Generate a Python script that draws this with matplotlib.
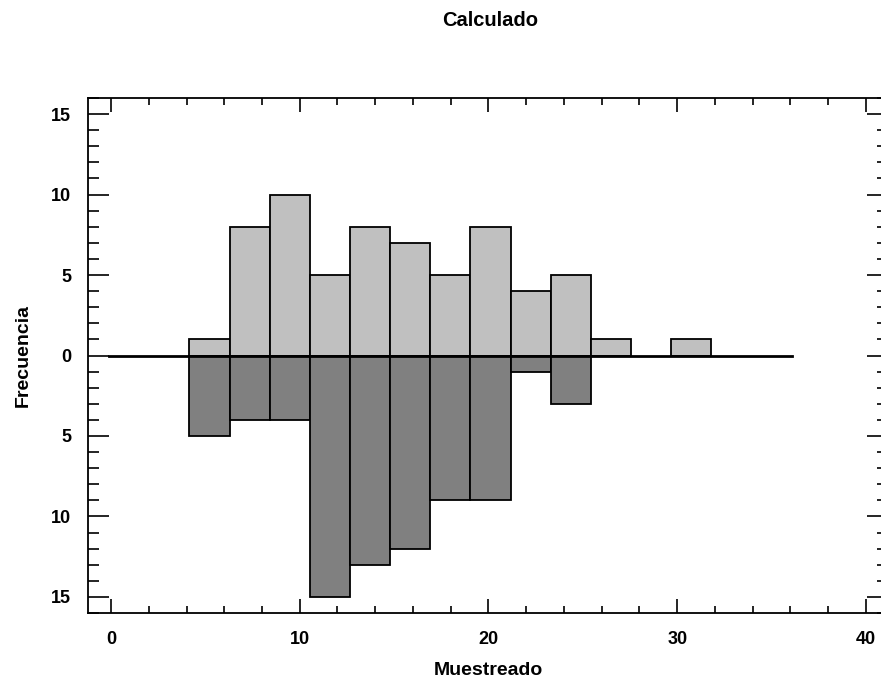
import numpy as np
import matplotlib
matplotlib.use("Agg")
import matplotlib.pyplot as plt
from matplotlib.ticker import MultipleLocator, FuncFormatter

plt.rcParams['font.family'] = ['Liberation Sans', 'DejaVu Sans']
plt.rcParams['font.weight'] = 'bold'

# bin edges of the histogram (17 bins)
bin_start = -0.1
bin_width = 2.127
n_bins = 17
edges = bin_start + bin_width * np.arange(n_bins + 1)

# Calculado (upper, light) and Muestreado (lower, dark) counts per bin
calculado = [0, 0, 1, 8, 10, 5, 8, 7, 5, 8, 4, 5, 1, 0, 1, 0, 0]
muestreado = [0, 0, 5, 4, 4, 15, 13, 12, 9, 9, 1, 3, 0, 0, 0, 0, 0]

fig = plt.figure(figsize=(8.81, 6.81), dpi=100)
ax = fig.add_axes([88 / 881, 68 / 681, 800 / 881, 515 / 681])

left = edges[:-1]
up = np.array(calculado)
down = -np.array(muestreado)

m_up = up > 0
ax.bar(left[m_up], up[m_up], width=bin_width, align='edge',
       color='#c0c0c0', edgecolor='black', linewidth=1.3, zorder=2)
m_dn = down < 0
ax.bar(left[m_dn], down[m_dn], width=bin_width, align='edge',
       color='#808080', edgecolor='black', linewidth=1.3, zorder=2)

# zero line across the full range of bins
ax.plot([edges[0], edges[-1]], [0, 0], color='black', linewidth=2, zorder=3)

ax.set_xlim(-1.22, 41.17)
ax.set_ylim(-16, 16)

ax.xaxis.set_major_locator(MultipleLocator(10))
ax.xaxis.set_minor_locator(MultipleLocator(2))
ax.yaxis.set_major_locator(MultipleLocator(5))
ax.yaxis.set_minor_locator(MultipleLocator(1))
ax.yaxis.set_major_formatter(FuncFormatter(lambda v, p: f"{abs(int(round(v)))}"))

ax.tick_params(axis='both', which='both', direction='in',
               top=True, right=True, width=1.2, labelsize=13)
ax.tick_params(axis='x', which='major', length=10, pad=13)
ax.tick_params(axis='x', which='minor', length=5)
ax.tick_params(axis='y', which='major', length=15, pad=12)
ax.tick_params(axis='y', which='minor', length=8)
for lab in ax.get_xticklabels() + ax.get_yticklabels():
    lab.set_fontweight('bold')

for s in ax.spines.values():
    s.set_linewidth(1.3)

ax.set_xlabel('Muestreado', fontsize=14, fontweight='bold', labelpad=10)
ax.set_ylabel('Frecuencia', fontsize=14, fontweight='bold', labelpad=14)
fig.text(490 / 881, 1 - 20 / 681, 'Calculado', ha='center', va='center',
         fontsize=14.5, fontweight='bold')

fig.savefig('out.png', dpi=100)
